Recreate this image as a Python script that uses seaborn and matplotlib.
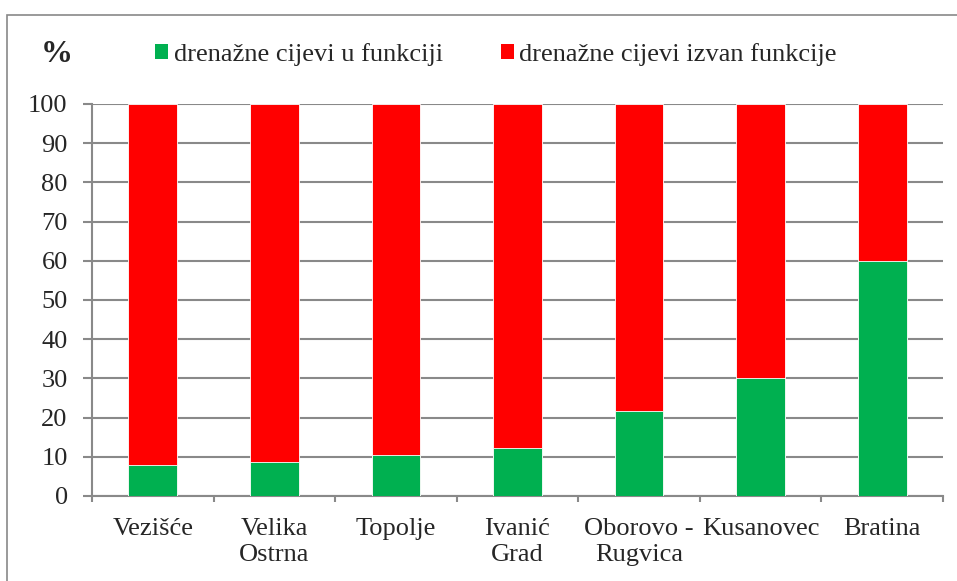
import numpy as np
import pandas as pd
import seaborn as sns
import matplotlib.pyplot as plt
from matplotlib.patches import Patch, Rectangle

# Data
lokacije = ['Vezišće', 'Velika\nOstrna', 'Topolje', 'Ivanić\nGrad',
            'Oborovo -\nRugvica', 'Kusanovec', 'Bratina']
u_funkciji = [7.9, 8.8, 10.5, 12.2, 21.7, 30.2, 60.0]
ukupno = [100, 100, 100, 100, 100, 100, 100]

zelena = '#00B050'
crvena = '#FF0000'
siva = '#898989'

df = pd.DataFrame({'lokacija': lokacije, 'u_funkciji': u_funkciji, 'ukupno': ukupno})

sns.set_style('white')
plt.rcParams['font.family'] = ['Liberation Serif', 'DejaVu Serif']

fig = plt.figure(figsize=(9.57, 5.81), dpi=100)
ax = fig.add_axes([0.0961, 0.1463, 0.8893, 0.6747])

# red = full bar, green drawn over it from the bottom
sns.barplot(data=df, x='lokacija', y='ukupno', color=crvena, saturation=1, width=0.4,
            edgecolor='white', linewidth=0.6, ax=ax, zorder=3)
sns.barplot(data=df, x='lokacija', y='u_funkciji', color=zelena, saturation=1, width=0.4,
            edgecolor='white', linewidth=0.6, ax=ax, zorder=4)

ax.set_xlim(-0.5, len(lokacije) - 0.5)
ax.set_ylim(0, 100)
ax.set_yticks(np.arange(0, 101, 10))
ax.yaxis.grid(True, color=siva, linewidth=1.5)
ax.set_axisbelow(True)
ax.set_xlabel('')
ax.set_ylabel('')

for s in ['top', 'right']:
    ax.spines[s].set_visible(False)
for s in ['left', 'bottom']:
    ax.spines[s].set_color(siva)
    ax.spines[s].set_linewidth(1.5)

ax.tick_params(axis='y', labelsize=19, length=6.5, width=1.5, color=siva, pad=11, left=True)
ax.tick_params(axis='x', which='major', labelsize=19, length=0, pad=16)
ax.set_xticks(np.arange(-0.5, len(lokacije)), minor=True)
ax.tick_params(axis='x', which='minor', length=4, width=1.5, color=siva, bottom=True)
for lbl in ax.get_xticklabels():
    lbl.set_linespacing(1.25)

# legend and percent sign on top
fig.text(0.043, 0.907, '%', fontsize=23, fontweight='bold', ha='left', va='center')
handles = [Patch(facecolor=zelena, edgecolor='none', label='drenažne cijevi u funkciji'),
           Patch(facecolor=crvena, edgecolor='none', label='drenažne cijevi izvan funkcije')]
fig.legend(handles=handles, loc='center left', bbox_to_anchor=(0.162, 0.906), ncol=2,
           frameon=False, fontsize=19, handlelength=0.5, handleheight=0.5,
           handletextpad=0.2, columnspacing=2.2, borderaxespad=0, borderpad=0)

# outer chart frame
fig.patches.append(Rectangle((7 / 957, -0.01), 1.0, 1 - 15 / 581 + 0.01,
                             transform=fig.transFigure, fill=False,
                             edgecolor=siva, linewidth=1.2))

fig.savefig('out.png', dpi=100)
